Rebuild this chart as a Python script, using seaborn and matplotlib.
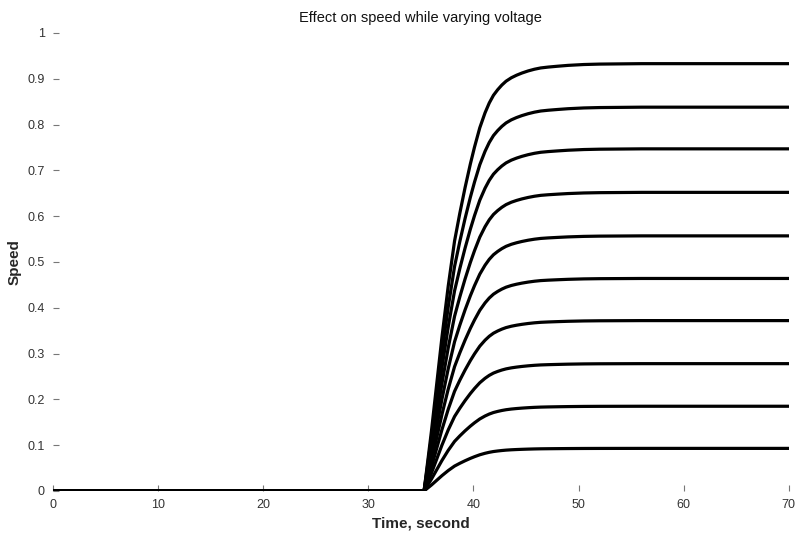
import numpy as np
import pandas as pd
import matplotlib
matplotlib.use("Agg")
import matplotlib.pyplot as plt
import seaborn as sns

# Time samples (s) and normalised step-response shape
time_s = [0, 35.3, 35.7, 36.0, 36.5, 37.0, 37.6, 38.2, 38.7, 39.2, 39.7, 40.1,
          40.6, 41.1, 41.5, 41.9, 42.3, 42.7, 43.1, 43.6, 44.1, 44.6, 45.2,
          45.8, 46.4, 47.1, 48.0, 49.0, 50.5, 52.0, 56.0, 70.0]
shape = [0, 0, 0.08, 0.14, 0.25, 0.36, 0.48, 0.585, 0.65, 0.71, 0.765, 0.805,
         0.85, 0.885, 0.908, 0.926, 0.939, 0.950, 0.959, 0.967, 0.973, 0.978, 0.983,
         0.987, 0.990, 0.992, 0.994, 0.996, 0.998, 0.999, 1.0, 1.0]
# Final speed level of each voltage setting
levels = [0.093, 0.185, 0.278, 0.372, 0.464, 0.557, 0.652, 0.747, 0.838, 0.933]
voltage_ids = [f"V{i+1}" for i in range(len(levels))]

x_ticks = [0, 10, 20, 30, 40, 50, 60, 70]
y_ticks = [0, 0.1, 0.2, 0.3, 0.4, 0.5, 0.6, 0.7, 0.8, 0.9, 1.0]
y_ticklabels = ["0", "0.1", "0.2", "0.3", "0.4", "0.5", "0.6", "0.7", "0.8", "0.9", "1"]

rows = []
for vid, lev in zip(voltage_ids, levels):
    for t, f in zip(time_s, shape):
        rows.append({"Time": t, "Speed": lev * f, "Voltage": vid})
df = pd.DataFrame(rows)

sns.set_theme(style="white")
plt.rcParams["font.family"] = ["Liberation Sans", "DejaVu Sans"]

fig = plt.figure(figsize=(7.96, 5.38), dpi=100)
ax = fig.add_axes([0.0666, 0.0874, 0.9244, 0.8513])

sns.lineplot(data=df, x="Time", y="Speed", hue="Voltage",
             palette=["black"] * len(levels), linewidth=2.3,
             legend=False, ax=ax, estimator=None, sort=False)

ax.set_xlim(0, 70)
ax.set_ylim(0, 1)
ax.set_xticks(x_ticks)
ax.set_xticklabels([str(v) for v in x_ticks])
ax.set_yticks(y_ticks)
ax.set_yticklabels(y_ticklabels)
for s in ax.spines.values():
    s.set_visible(False)
ax.tick_params(axis="both", direction="in", length=4, width=0.8,
               color="#777777", labelsize=9, labelcolor="#333333",
               bottom=True, left=True, top=False, right=False, pad=6)

ax.set_title("Effect on speed while varying voltage", fontsize=10.5, pad=8,
             color="#111111")
ax.set_xlabel("Time, second", fontsize=11, fontweight="bold", labelpad=4)
ax.set_ylabel("Speed", fontsize=11, fontweight="bold", labelpad=4)

fig.savefig("out.png", dpi=100)
